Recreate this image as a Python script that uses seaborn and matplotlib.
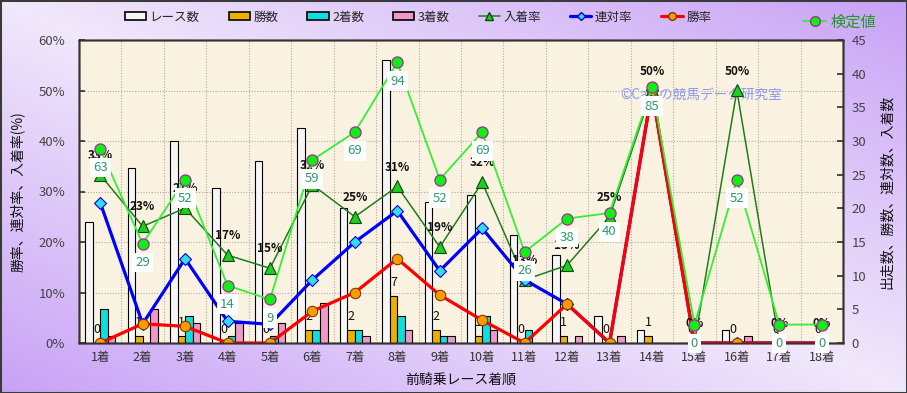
import numpy as np
import pandas as pd
import matplotlib
matplotlib.use("Agg")
import matplotlib.pyplot as plt
import seaborn as sns
from matplotlib.lines import Line2D
from matplotlib.patches import Patch, Rectangle

# ---------------- data ----------------
categories = ["1着", "2着", "3着", "4着", "5着", "6着", "7着", "8着", "9着",
              "10着", "11着", "12着", "13着", "14着", "15着", "16着", "17着", "18着"]
races   = [18, 26, 30, 23, 27, 32, 20, 42, 21, 22, 16, 13, 4, 2, 0, 2, 0, 0]
wins    = [0, 1, 1, 0, 0, 2, 2, 7, 2, 1, 0, 1, 0, 1, 0, 0, 0, 0]
seconds = [5, 0, 4, 1, 1, 2, 2, 4, 1, 4, 2, 0, 0, 0, 0, 0, 0, 0]
thirds  = [1, 5, 3, 3, 3, 6, 1, 2, 1, 2, 0, 1, 1, 0, 0, 1, 0, 0]
win_rate    = [0, 3.8, 3.3, 0, 0, 6.3, 10.0, 16.7, 9.5, 4.5, 0, 7.7, 0, 50, 0, 0, 0, 0]
rentai_rate = [27.8, 3.8, 16.7, 4.3, 3.7, 12.5, 20.0, 26.2, 14.3, 22.7, 12.5, 7.7, 0, 50, 0, 0, 0, 0]
place_rate  = [33.3, 23.1, 26.7, 17.4, 14.8, 31.3, 25.0, 31.0, 19.0, 31.8, 12.5, 15.4, 25.0, 50, 0, 50, 0, 0]
place_labels = ["33%", "23%", "27%", "17%", "15%", "31%", "25%", "31%", "19%", "32%", "13%",
                "15%", "25%", "50%", "0%", "50%", "0%", "0%"]
kentei = [63, 29, 52, 14, 9, 59, 69, 94, 52, 69, 26, 38, 40, 85, 0, 52, 0, 0]

bar_names = ["レース数", "勝数", "2着数", "3着数"]
bar_colors = ["#f6f6f6", "#eeb000", "#11dddd", "#ee99c8"]

# ---------------- style ----------------
sns.set_theme(style="white")
plt.rcParams["font.family"] = ["Noto Sans CJK JP", "DejaVu Sans"]

fig = plt.figure(figsize=(9.07, 3.93), dpi=100)

# gradient background
bg = fig.add_axes([0, 0, 1, 1])
gx = np.linspace(0, 1, 300)
gy = np.linspace(0, 1, 130)
GX, GY = np.meshgrid(gx, gy)
t = np.abs(GX - GY)[..., None]
light = np.array([0.945, 0.91, 0.985])
purple = np.array([0.785, 0.635, 0.965])
img = light * (1 - t) + purple * t
bg.imshow(img, aspect="auto", extent=[0, 1, 0, 1], origin="upper")
bg.set_axis_off()

pos = [79 / 907, 1 - 343 / 393, (843 - 79) / 907, (343 - 40) / 393]
ax_grid = fig.add_axes(pos)
ax_grid.set_facecolor("#faf2e0")
ax_bar = ax_grid.twinx()
ax_line = ax_grid.twinx()
ax_k = ax_grid.twinx()

# ---------------- bars ----------------
df_bar = pd.DataFrame({
    "着順": categories * 4,
    "系列": [n for n in bar_names for _ in categories],
    "値": races + wins + seconds + thirds,
})
sns.barplot(data=df_bar, x="着順", y="値", hue="系列", hue_order=bar_names,
            order=categories, palette=bar_colors, width=0.71, saturation=1,
            edgecolor="black", linewidth=0.8, errorbar=None, legend=False, ax=ax_bar)

# win count labels
win_container = ax_bar.containers[1]
ax_bar.bar_label(win_container, labels=[str(v) for v in wins], padding=5,
                 fontsize=9, color="#111111")

ax_bar.set_ylim(0, 45)
ax_bar.set_yticks(range(0, 46, 5))
ax_bar.set_xlabel("")
ax_bar.set_ylabel("出走数、勝数、連対数、入着数", fontsize=10, labelpad=10, color="#111111")
ax_bar.tick_params(axis="y", direction="in", length=4, labelsize=9.5, colors="#333333",
                   labelcolor="#444444", pad=6)

xs = np.arange(len(categories))

# ---------------- rate lines ----------------
sns.lineplot(x=xs, y=place_rate, ax=ax_line, color="#1e7d1e", linewidth=1.1,
             marker="^", markersize=9, markerfacecolor="#22cc22",
             markeredgecolor="#0a4a0a", markeredgewidth=0.8, legend=False, sort=False)
sns.lineplot(x=xs, y=rentai_rate, ax=ax_line, color="#0000ff", linewidth=2.3,
             marker="D", markersize=6.5, markerfacecolor="#33ddee",
             markeredgecolor="#0000cc", markeredgewidth=0.8, legend=False, sort=False)
sns.lineplot(x=xs, y=win_rate, ax=ax_line, color="#ff0000", linewidth=2.3,
             marker="o", markersize=7.5, markerfacecolor="#ff9900",
             markeredgecolor="#7a3a00", markeredgewidth=0.8, legend=False, sort=False)
for i, (v, lab) in enumerate(zip(place_rate, place_labels)):
    ax_line.annotate(lab, (i, v), xytext=(0, 14), textcoords="offset points",
                     ha="center", va="center", fontsize=8.5, fontweight="semibold",
                     color="#111111")
ax_line.set_ylim(0, 60)
ax_line.set_yticks([])

# ---------------- 検定値 ----------------
sns.lineplot(x=xs, y=kentei, ax=ax_k, color="#33ee33", linewidth=1.3,
             marker="o", markersize=8, markerfacecolor="#11ee11",
             markeredgecolor="#993399", markeredgewidth=0.9, legend=False, sort=False)
for i, v in enumerate(kentei):
    ax_k.annotate(str(v), (i, v), xytext=(0, -13.5), textcoords="offset points",
                  ha="center", va="center", fontsize=9.5, color="#2f9a70",
                  bbox=dict(boxstyle="square,pad=0.25", fc="white", ec="none"))
ax_k.set_ylim(-6.6, 102)
ax_k.set_yticks([])

# ---------------- grid axis ----------------
ax_grid.set_ylim(0, 60)
ax_grid.set_yticks(range(0, 61, 10))
ax_grid.set_yticklabels([f"{v}%" for v in range(0, 61, 10)])
ax_grid.set_xlim(-0.5, len(categories) - 0.5)
ax_grid.set_xticks(xs)
ax_grid.set_xticklabels(categories)
ax_grid.set_xticks(np.arange(-0.5, len(categories), 1), minor=True)
ax_grid.yaxis.grid(True, color="#b0aaa0", linestyle=(0, (1, 1.5)), linewidth=0.8)
ax_grid.xaxis.grid(True, which="minor", color="#b0aaa0", linestyle=(0, (1, 1.5)), linewidth=0.8)
ax_grid.xaxis.grid(False, which="major")
ax_grid.tick_params(axis="y", direction="in", length=4, labelsize=9.5, colors="#333333",
                    labelcolor="#444444", pad=10)
ax_grid.tick_params(axis="x", which="both", length=0, labelsize=9, labelcolor="#333333", pad=6)
ax_grid.set_xlabel("前騎乗レース着順", fontsize=10, labelpad=6, color="#111111")
ax_grid.set_ylabel("勝率、連対率、入着率(%)", fontsize=10, labelpad=10, color="#111111")
ax_grid.text(0.708, 0.818, "©Catsの競馬データ研究室", transform=ax_grid.transAxes,
             fontsize=9.8, color="#8a9af0", ha="left", va="center", zorder=5)

for a in (ax_grid, ax_bar, ax_line, ax_k):
    for s in a.spines.values():
        s.set_color("#333333")
        s.set_linewidth(1.0)

# ---------------- legends ----------------
handles = [
    Patch(facecolor=bar_colors[0], edgecolor="black", linewidth=1.2),
    Patch(facecolor=bar_colors[1], edgecolor="black", linewidth=1.2),
    Patch(facecolor=bar_colors[2], edgecolor="black", linewidth=1.2),
    Patch(facecolor=bar_colors[3], edgecolor="black", linewidth=1.2),
    Line2D([], [], color="#1e7d1e", lw=1.1, marker="^", ms=6, mfc="#22cc22", mec="#0a4a0a"),
    Line2D([], [], color="#0000ff", lw=2.3, marker="D", ms=4.5, mfc="#33ddee", mec="#0000cc"),
    Line2D([], [], color="#ff0000", lw=2.3, marker="o", ms=5.5, mfc="#ff9900", mec="#7a3a00"),
]
labels = bar_names + ["入着率", "連対率", "勝率"]
fig.legend(handles, labels, loc="center", bbox_to_anchor=(418 / 907, 1 - 17 / 393),
           ncol=7, frameon=False, fontsize=9, handlelength=1.7, handleheight=0.6,
           handletextpad=0.3, columnspacing=2.3)
fig.legend([Line2D([], [], color="#33ee33", lw=1.3, marker="o", ms=7, mfc="#11ee11",
                   mec="#993399")], ["検定値"], loc="center",
           bbox_to_anchor=(840 / 907, 1 - 22 / 393), frameon=False, fontsize=11,
           labelcolor="#229922", handlelength=1.5, handletextpad=0.3)

fig.add_artist(Rectangle((0, 0), 1, 1, transform=fig.transFigure, fill=False,
                         edgecolor="#3a3a3a", linewidth=2.2))

fig.savefig("out.png", dpi=100)
